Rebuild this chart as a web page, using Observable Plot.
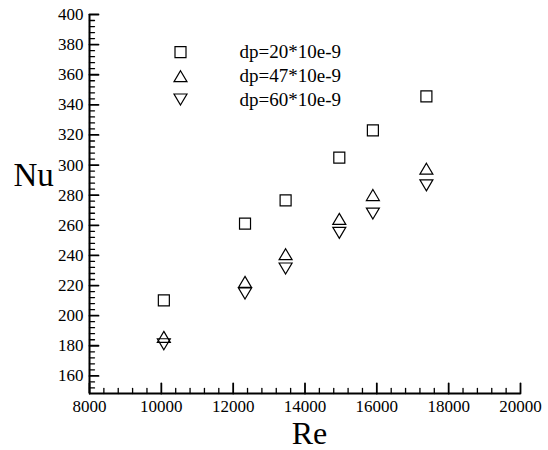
<!DOCTYPE html>
<html>
<head>
<meta charset="utf-8">
<script src="https://cdn.jsdelivr.net/npm/d3@7"></script>
<script src="https://cdn.jsdelivr.net/npm/@observablehq/plot@0.6"></script>
<style>
  html, body { margin: 0; padding: 0; background: #fff; }
  svg text { font-family: "Liberation Serif", "Times New Roman", serif; }
</style>
</head>
<body>
<div id="chart"></div>
<script>
// Reynolds numbers of the runs
const re = [10070, 12330, 13460, 14955, 15890, 17380];
// Nusselt number for each particle diameter
const nu20 = [210.2, 261.1, 276.6, 304.9, 323.0, 345.6];
const nu47 = [185.9, 222.4, 240.8, 264.3, 280.1, 297.6];
const nu60 = [181.0, 214.7, 231.3, 255.0, 267.8, 286.5];
const seriesNames = ["dp=20*10e-9", "dp=47*10e-9", "dp=60*10e-9"];

// axis ticks
const xMajor = d3.range(8000, 20001, 2000);
const xMinor = d3.range(8000, 20001, 400).filter(v => v % 2000 !== 0);
const yMajor = d3.range(160, 401, 20);
const yMinor = d3.range(152, 400, 4).filter(v => v % 20 !== 0);
const xMin = 8000, xMax = 20000, yMin = 148.3, yMax = 400;

// outline symbols sized from the radius r
const square = {draw(ctx, size) {
  const r = Math.sqrt(size / Math.PI);
  ctx.rect(-r, -r, 2 * r, 2 * r);
}};
const triUp = {draw(ctx, size) {
  const r = Math.sqrt(size / Math.PI), w = r * 1.18;
  ctx.moveTo(0, -r); ctx.lineTo(w, r); ctx.lineTo(-w, r); ctx.closePath();
}};
const triDown = {draw(ctx, size) {
  const r = Math.sqrt(size / Math.PI), w = r * 1.18;
  ctx.moveTo(0, r); ctx.lineTo(w, -r); ctx.lineTo(-w, -r); ctx.closePath();
}};
const symbols = [square, triUp, triDown];
const series = [nu20, nu47, nu60].map(v => re.map((x, i) => ({re: x, nu: v[i]})));

// plain straight tick line for the vector marks
const tickLine = {draw(ctx, l) { ctx.moveTo(0, 0); ctx.lineTo(0, -l); }};

const font = "'Liberation Serif', 'Times New Roman', serif";
const markStyle = {fill: "none", stroke: "black", strokeWidth: 1.2, r: 5.5};

const legendRows = [37.7, 61.7, 85];
const legendMarks = seriesNames.flatMap((name, i) => [
  Plot.dot([name], {frameAnchor: "top-left", dx: 91, dy: legendRows[i], symbol: symbols[i], ...markStyle}),
  Plot.text([name], {frameAnchor: "top-left", dx: 150, dy: legendRows[i], text: d => d,
    textAnchor: "start", lineAnchor: "middle", fontSize: 19, fontFamily: font, fill: "black"})
]);

const tickOpts = {shape: tickLine, anchor: "start", stroke: "black"};

const chart = Plot.plot({
  width: 548,
  height: 450,
  marginLeft: 89,
  marginRight: 28,
  marginTop: 14,
  marginBottom: 57,
  style: {fontFamily: font, background: "white", color: "black"},
  x: {domain: [xMin, xMax]},
  y: {domain: [yMin, yMax]},
  marks: [
    Plot.axisX(xMajor, {tickSize: 0, tickPadding: 6, tickFormat: d => String(d), fontSize: 17, fontFamily: font, label: null}),
    Plot.axisY(yMajor, {tickSize: 0, tickPadding: 6, tickFormat: d => String(d), fontSize: 17, fontFamily: font, label: null}),
    // inward tick marks
    Plot.vectorY(xMajor, {x: d => d, y: yMin, length: 10, rotate: 0, strokeWidth: 1.8, ...tickOpts}),
    Plot.vectorY(xMinor, {x: d => d, y: yMin, length: 5, rotate: 0, strokeWidth: 1.3, ...tickOpts}),
    Plot.vectorX(yMajor, {y: d => d, x: xMin, length: 9, rotate: 90, strokeWidth: 1.8, ...tickOpts}),
    Plot.vectorX(yMinor, {y: d => d, x: xMin, length: 5, rotate: 90, strokeWidth: 1.3, ...tickOpts}),
    // axis lines
    Plot.ruleY([yMin], {x1: xMin, x2: xMax, stroke: "black", strokeWidth: 2}),
    Plot.ruleX([xMin], {y1: yMin, y2: yMax, stroke: "black", strokeWidth: 2}),
    // data
    ...series.map((data, i) => Plot.dot(data, {x: "re", y: "nu", symbol: symbols[i], ...markStyle})),
    ...legendMarks,
    // axis titles
    Plot.text(["Nu"], {frameAnchor: "top-left", dx: -76, dy: 171, text: d => d, textAnchor: "start",
      lineAnchor: "bottom", fontSize: 33, fontFamily: font, fill: "black"}),
    Plot.text(["Re"], {frameAnchor: "bottom", dx: 4.5, dy: 50, text: d => d, textAnchor: "middle",
      lineAnchor: "bottom", fontSize: 32, fontFamily: font, fill: "black"})
  ]
});
document.getElementById("chart").appendChild(chart);
</script>
</body>
</html>
